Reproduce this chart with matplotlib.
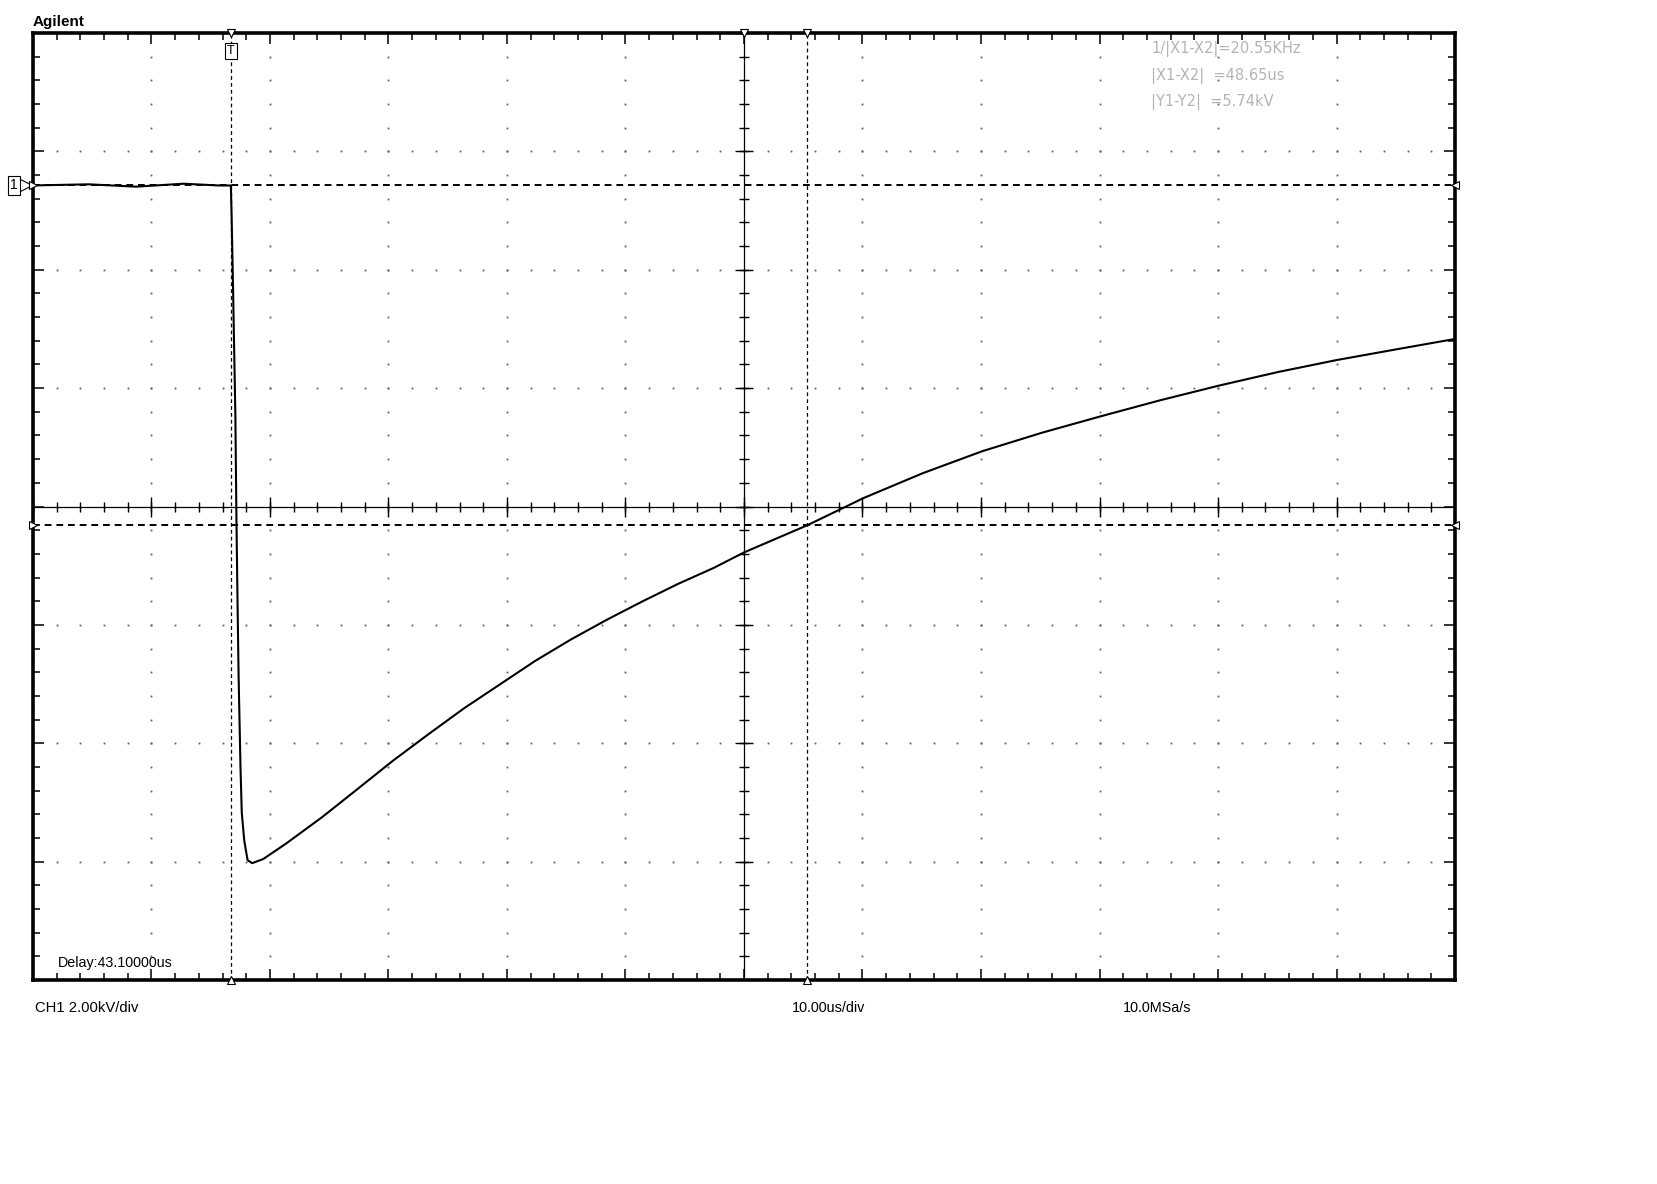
import matplotlib.pyplot as plt
import numpy as np

plt.rcParams['font.family'] = ['Liberation Sans', 'DejaVu Sans']

# scope settings
kv_per_div = 2.0        # CH1 2.00kV/div
us_per_div = 10.0       # 10.00us/div
n_xdiv, n_ydiv = 12, 8
screen_centre = 43.3    # us after trigger at the middle of the screen
gnd_from_top = 1.288    # divisions from top of screen to CH1 ground

# cursors
x_cursors = [0.0, 48.65]    # us
y_cursors = [0.0, -5.74]    # kV

# trace (time in us, voltage in kV)
t_us = [-16.9, -12.0, -8.0, -4.0, -1.0, 0.0, 0.06, 0.19, 0.38, 0.46, 0.54,
        0.65, 0.81, 0.92, 1.13, 1.41, 1.8, 2.73, 4.65, 7.65, 10.67, 13.67,
        16.68, 19.7, 22.7, 25.7, 28.7, 31.7, 34.7, 37.75, 40.76, 43.3,
        48.65, 53.4, 58.4, 63.4, 68.4, 73.4, 78.4, 83.4, 88.4, 93.3, 98.3,
        103.1]
v_kv = [0.0, 0.02, -0.02, 0.03, 0.0, 0.0, -0.5, -1.8, -3.9, -5.47, -6.72,
        -8.27, -9.82, -10.6, -11.07, -11.4, -11.45, -11.38, -11.12, -10.68,
        -10.2, -9.72, -9.27, -8.83, -8.43, -8.03, -7.67, -7.34, -7.03, -6.73,
        -6.46, -6.2, -5.74, -5.28, -4.86, -4.49, -4.18, -3.9, -3.63, -3.38,
        -3.15, -2.95, -2.77, -2.6]

fig = plt.figure(figsize=(16.57, 11.84), dpi=100)
ax = fig.add_axes([0.0199, 0.1723, 0.8582, 0.7998])

x0 = screen_centre - n_xdiv / 2 * us_per_div
x1 = screen_centre + n_xdiv / 2 * us_per_div
ytop = gnd_from_top * kv_per_div
ybot = ytop - n_ydiv * kv_per_div
ax.set_xlim(x0, x1)
ax.set_ylim(ybot, ytop)
xc = screen_centre
yc = (ytop + ybot) / 2

# graticule: dotted major lines, dots at minor steps
xmaj = x0 + us_per_div * np.arange(n_xdiv + 1)
ymaj = ybot + kv_per_div * np.arange(n_ydiv + 1)
xmin_ = x0 + us_per_div / 5 * np.arange(n_xdiv * 5 + 1)
ymin_ = ybot + kv_per_div / 5 * np.arange(n_ydiv * 5 + 1)
for xv in xmaj[1:-1]:
    ax.plot(np.full_like(ymin_, xv), ymin_, ls='none', marker='s', ms=1.3,
            color='#606060', mew=0)
for yv in ymaj[1:-1]:
    ax.plot(xmin_, np.full_like(xmin_, yv), ls='none', marker='s', ms=1.3,
            color='#606060', mew=0)

# centre cross with ticks
ax.axhline(yc, color='black', lw=0.9)
ax.axvline(xc, color='black', lw=0.9)
ax.plot(xmin_, np.full_like(xmin_, yc), ls='none', marker='|', ms=7,
        mew=1.0, color='black')
ax.plot(xmaj, np.full_like(xmaj, yc), ls='none', marker='|', ms=14,
        mew=1.0, color='black')
ax.plot(np.full_like(ymin_, xc), ymin_, ls='none', marker='_', ms=7,
        mew=1.0, color='black')
ax.plot(np.full_like(ymaj, xc), ymaj, ls='none', marker='_', ms=13,
        mew=1.0, color='black')

# edge ticks
ax.set_xticks(xmaj)
ax.set_yticks(ymaj)
ax.set_xticks(xmin_, minor=True)
ax.set_yticks(ymin_, minor=True)
ax.tick_params(which='both', direction='in', top=True, right=True,
               labelbottom=False, labelleft=False, color='black')
ax.tick_params(which='major', length=8, width=1.1)
ax.tick_params(which='minor', length=5, width=1.1)
for s in ax.spines.values():
    s.set_linewidth(2.6)

# cursors
for xv in x_cursors:
    ax.axvline(xv, color='black', lw=0.9, dashes=(3, 2.5))
for yv in y_cursors:
    ax.axhline(yv, color='black', lw=1.4, dashes=(3.5, 2.5))

# trace
ax.plot(t_us, v_kv, color='black', lw=1.5, zorder=5)

# markers on the screen edges
mk = dict(ls='none', mfc='white', mec='black', mew=0.8, ms=6, clip_on=False,
          zorder=6)
ax.plot([x_cursors[0], xc, x_cursors[1]], [ytop] * 3, marker='v', **mk)
ax.plot(x_cursors, [ybot] * 2, marker='^', **mk)
ax.plot([x0] * 2, y_cursors, marker='>', **mk)
ax.plot([x1] * 2, y_cursors, marker='<', **mk)

# trigger marker
ax.text(x_cursors[0], ytop - 0.2, 'T', ha='center', va='top', fontsize=9,
        zorder=7, bbox=dict(boxstyle='square,pad=0.15', fc='white',
                            ec='black', lw=0.8))

# channel 1 ground marker outside the screen
ax.text(-0.0135, 0.0, '1', transform=ax.get_yaxis_transform(), ha='center',
        va='center', fontsize=10, clip_on=False,
        bbox=dict(boxstyle='square,pad=0.15', fc='white', ec='black', lw=0.8))
ax.plot([-0.0055], [0.0], transform=ax.get_yaxis_transform(), marker='>',
        ls='none', mfc='white', mec='black', mew=0.8, ms=10, clip_on=False)

# text
fig.text(33 / 1657, 1 - 22 / 1184, 'Agilent', fontsize=11, fontweight='bold',
         va='center', ha='left')
meas = ['1/|X1-X2|=20.55KHz', '|X1-X2|  =48.65us', '|Y1-Y2|  =5.74kV']
for i, s in enumerate(meas):
    fig.text(1151 / 1657, 1 - (49 + 26.5 * i) / 1184, s, fontsize=10.5,
             family='DejaVu Sans', color='#b4b4b4', va='center', ha='left')
fig.text(58 / 1657, 1 - 963 / 1184, 'Delay:43.10000us', fontsize=10.3,
         va='center', ha='left')
fig.text(35 / 1657, 1 - 1008 / 1184, 'CH1 2.00kV/div', fontsize=10.6,
         va='center', ha='left')
fig.text(792 / 1657, 1 - 1008 / 1184, '10.00us/div', fontsize=10.4,
         va='center', ha='left')
fig.text(1123 / 1657, 1 - 1008 / 1184, '10.0MSa/s', fontsize=10.4,
         va='center', ha='left')

fig.savefig('out.png', dpi=100)
